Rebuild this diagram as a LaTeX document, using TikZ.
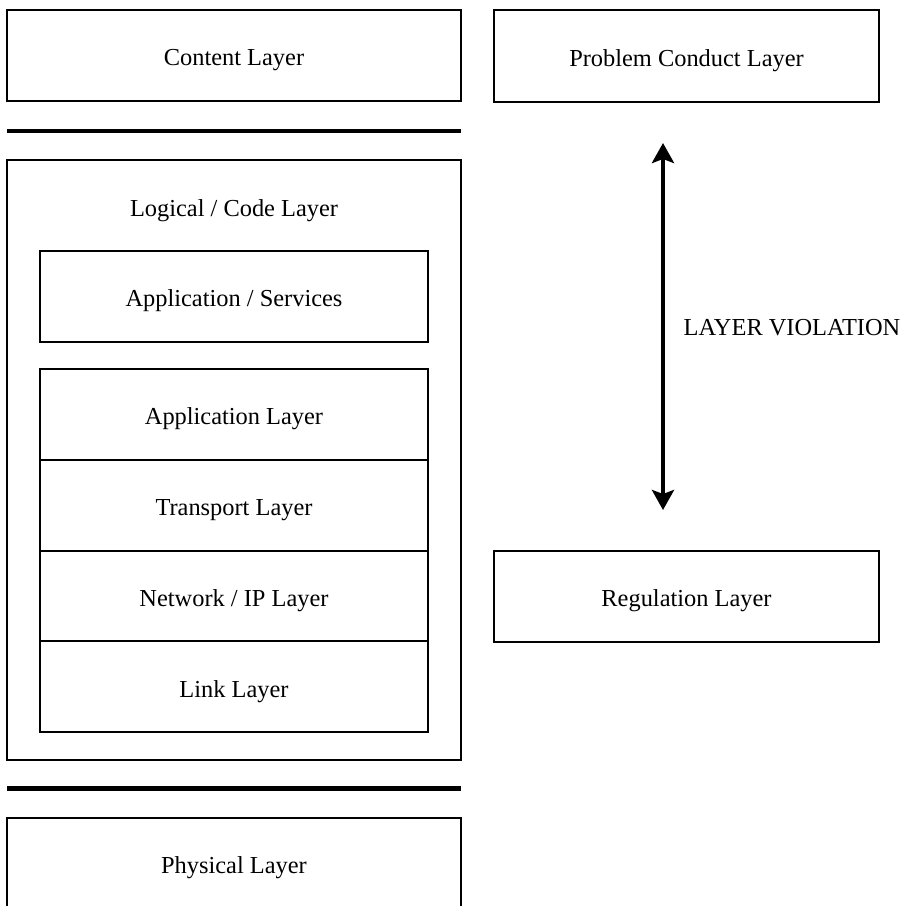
\documentclass[tikz,border=0pt]{standalone}
\usepackage{fontspec}
\setmainfont{Liberation Serif}
\usetikzlibrary{arrows.meta}
\begin{document}
\begin{tikzpicture}[x=0.5pt,y=-0.5pt,
  layerbox/.style={draw=black, line width=1pt, inner sep=0pt, outer sep=0pt, text height=10.4pt, text depth=0pt, font=\fontsize{12.2}{14}\selectfont},
  wide/.style={minimum width=227pt},
  narrow/.style={minimum width=194pt},
  right col/.style={minimum width=192.5pt},
  rowh/.style={minimum height=45.5pt},
  label/.style={inner sep=0pt, font=\fontsize{12.2}{14}\selectfont},
  sep/.style={line width=2.3pt},
  violation/.style={line width=2pt, {Stealth[length=10pt,width=11pt,inset=2pt]}-{Stealth[length=10pt,width=11pt,inset=2pt]}}
]
\useasboundingbox[fill=white] (0,0) rectangle (903,906);

% left column
\node[layerbox, wide, rowh] (content) at (234,55.5) {Content Layer};
\coordinate (s1a) at (7,131);
\coordinate (s1b) at (461,131);
\draw[sep] (s1a) -- (s1b);

\node[layerbox, wide, minimum height=300pt] (logical) at (234,460) {};
\node[label] (logicaltxt) at (234,211) {Logical / Code Layer};

\node[layerbox, narrow, rowh] (appserv) at (234,296.5) {Application / Services};

\node[layerbox, narrow, minimum height=45.375pt] (applayer) at (234,414.375) {Application Layer};
\node[layerbox, narrow, minimum height=45.375pt] (transport) at (234,505.125) {Transport Layer};
\node[layerbox, narrow, minimum height=45.375pt] (network) at (234,595.875) {Network / IP Layer};
\node[layerbox, narrow, minimum height=45.375pt] (link) at (234,686.625) {Link Layer};

\coordinate (s2a) at (7,788.5);
\coordinate (s2b) at (461,788.5);
\draw[sep] (s2a) -- (s2b);

\node[layerbox, wide, rowh] (physical) at (234,863) {Physical Layer};

% right column
\node[layerbox, right col, minimum height=46pt] (problem) at (686.5,56) {Problem Conduct Layer};
\node[layerbox, right col, rowh] (regulation) at (686.5,596.5) {Regulation Layer};

\coordinate (atop) at (663,143);
\coordinate (abot) at (663,510);
\draw[violation] (abot) -- (atop);

\node[label] (viol) at (792,328) {LAYER VIOLATION};
\end{tikzpicture}
\end{document}
